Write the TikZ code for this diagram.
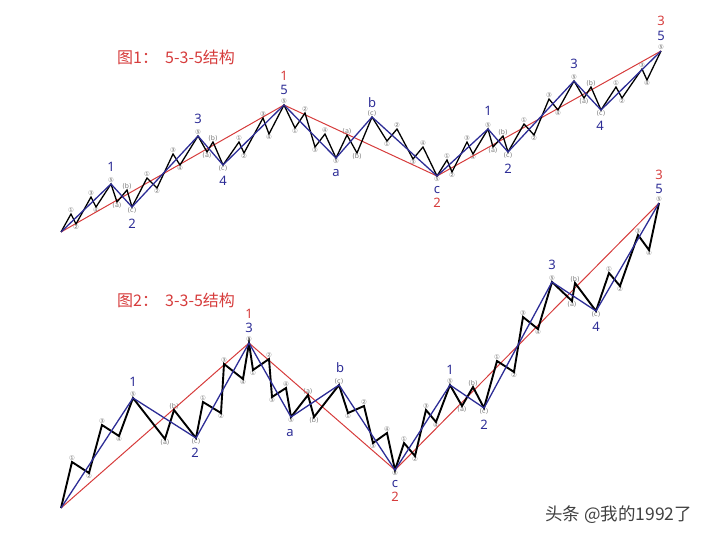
\documentclass[tikz,border=0pt]{standalone}
\usepackage{fontspec}
\setmainfont{Noto Sans}
\newfontfamily\cjk{Noto Sans CJK SC}
\newfontfamily\circfont{DejaVu Sans}
\definecolor{wavered}{RGB}{214,60,60}
\definecolor{waveblue}{RGB}{45,45,150}
\definecolor{subgray}{RGB}{120,120,120}
\tikzset{
  sub/.style={font=\circfont\fontsize{6.5}{7}\selectfont, text=subgray, inner sep=0.8pt},
  hi/.style={label={[sub]above:#1}},
  lo/.style={label={[sub]below:#1}},
  wl/.style={font=\fontsize{13}{15}\selectfont, text=waveblue, inner sep=0pt},
  rl/.style={font=\fontsize{13}{15}\selectfont, text=wavered, inner sep=0pt},
  ttl/.style={font=\cjk\fontsize{16}{18}\selectfont, text=wavered, anchor=west, inner sep=0pt},
  rline/.style={draw=wavered, line width=1pt},
  bline/.style={draw=waveblue, line width=1.3pt, line join=miter},
  kline/.style={draw=black, line width=1.3pt, line join=miter}
}
\begin{document}
\begin{tikzpicture}[x=1pt, y=-1pt]
\useasboundingbox (0,0) rectangle (720,540);
\node[ttl] (title1) at (117,57) {图1：\ \ 5-3-5结构};
\node[ttl] (title2) at (117,300) {图2：\ \ 3-3-5结构};
% top chart
\coordinate (t0) at (61,232);
\coordinate[hi=①] (t1) at (71,214); \coordinate[lo=②] (t2) at (76,224); \coordinate[hi=③] (t3) at (91,197); \coordinate[lo=④] (t4) at (96,207); \coordinate[hi=⑤] (t5) at (111,184);
\coordinate[lo=(a)] (t6) at (117,202); \coordinate[hi=(b)] (t7) at (127,190); \coordinate[lo=(c)] (t8) at (132,207);
\coordinate[hi=①] (t9) at (147,178); \coordinate[lo=②] (t10) at (157,188); \coordinate[hi=③] (t11) at (173,154); \coordinate[lo=④] (t12) at (180,165); \coordinate[hi=⑤] (t13) at (198,136);
\coordinate[lo=(a)] (t14) at (207,152); \coordinate[hi=(b)] (t15) at (213,142); \coordinate[lo=(c)] (t16) at (223,165);
\coordinate[hi=①] (t17) at (239,142); \coordinate[lo=②] (t18) at (244,153); \coordinate[hi=③] (t19) at (263,118); \coordinate[lo=④] (t20) at (269,134); \coordinate[hi=⑤] (t21) at (284,105);
\coordinate[lo=①] (t22) at (295,128); \coordinate[hi=②] (t23) at (305,113); \coordinate[lo=③] (t24) at (315,147); \coordinate[hi=④] (t25) at (325,134); \coordinate[lo=⑤] (t26) at (336,158);
\coordinate[hi=(a)] (t27) at (347,135); \coordinate[lo=(b)] (t28) at (357,153); \coordinate[hi=(c)] (t29) at (372,117);
\coordinate[lo=①] (t30) at (387,141); \coordinate[hi=②] (t31) at (397,129); \coordinate[lo=③] (t32) at (413,159); \coordinate[hi=④] (t33) at (423,147); \coordinate[lo=⑤] (t34) at (437,176);
\coordinate[hi=①] (t35) at (447,160); \coordinate[lo=②] (t36) at (452,172); \coordinate[hi=③] (t37) at (467,142); \coordinate[lo=④] (t38) at (473,154); \coordinate[hi=⑤] (t39) at (488,129);
\coordinate[lo=(a)] (t40) at (493,147); \coordinate[hi=(b)] (t41) at (503,136); \coordinate[lo=(c)] (t42) at (508,152);
\coordinate[hi=①] (t43) at (524,124); \coordinate[lo=②] (t44) at (534,135); \coordinate[hi=③] (t45) at (549,99); \coordinate[lo=④] (t46) at (558,110); \coordinate[hi=⑤] (t47) at (574,81);
\coordinate[lo=(a)] (t48) at (584,98); \coordinate[hi=(b)] (t49) at (591,87); \coordinate[lo=(c)] (t50) at (601,110);
\coordinate[hi=①] (t51) at (616,87); \coordinate[lo=②] (t52) at (622,98); \coordinate[hi=③] (t53) at (642,69); \coordinate[lo=④] (t54) at (647,80); \coordinate[hi=⑤] (t55) at (661,51);
\draw[rline] (t0) -- (t21) -- (t34) -- (t55);
\draw[kline] (t0) -- (t1) -- (t2) -- (t3) -- (t4) -- (t5) -- (t6) -- (t7) -- (t8) -- (t9) -- (t10) -- (t11) -- (t12) -- (t13) -- (t14) -- (t15) -- (t16) -- (t17) -- (t18) -- (t19) -- (t20) -- (t21) -- (t22) -- (t23) -- (t24) -- (t25) -- (t26) -- (t27) -- (t28) -- (t29) -- (t30) -- (t31) -- (t32) -- (t33) -- (t34) -- (t35) -- (t36) -- (t37) -- (t38) -- (t39) -- (t40) -- (t41) -- (t42) -- (t43) -- (t44) -- (t45) -- (t46) -- (t47) -- (t48) -- (t49) -- (t50) -- (t51) -- (t52) -- (t53) -- (t54) -- (t55);
\draw[bline] (t0) -- (t5) -- (t8) -- (t13) -- (t16) -- (t21) -- (t26) -- (t29) -- (t34) -- (t39) -- (t42) -- (t47) -- (t50) -- (t55);
\node[wl] (tw1) at (111,167) {1};
\node[wl] (tw2) at (132,224) {2};
\node[wl] (tw3) at (198,119) {3};
\node[wl] (tw4) at (223,181) {4};
\node[wl] (tw5) at (284,90) {5};
\node[wl] (twa) at (336,173) {a};
\node[wl] (twb) at (372,103) {b};
\node[wl] (twc) at (437,190) {c};
\node[wl] (tv1) at (488,111) {1};
\node[wl] (tv2) at (508,169) {2};
\node[wl] (tv3) at (574,64) {3};
\node[wl] (tv4) at (600,126) {4};
\node[wl] (tv5) at (661,36) {5};
\node[rl] (tr1) at (284,76) {1};
\node[rl] (tr2) at (437,203) {2};
\node[rl] (tr3) at (661,21) {3};
% bottom chart
\coordinate (b0) at (61,508);
\coordinate[hi=①] (b1) at (72,462); \coordinate[lo=②] (b2) at (89,473); \coordinate[hi=③] (b3) at (102,425); \coordinate[lo=④] (b4) at (119,436); \coordinate[hi=⑤] (b5) at (133,398);
\coordinate[lo=(a)] (b6) at (165,439); \coordinate[hi=(b)] (b7) at (174,410); \coordinate[lo=(c)] (b8) at (196,438);
\coordinate[hi=①] (b9) at (203,402); \coordinate[lo=②] (b10) at (221,413); \coordinate[hi=③] (b11) at (224,364); \coordinate[lo=④] (b12) at (243,379); \coordinate[hi=⑤] (b13) at (249,343);
\coordinate[lo=①] (b14) at (253,370); \coordinate[hi=②] (b15) at (269,359); \coordinate[lo=③] (b16) at (272,397); \coordinate[hi=④] (b17) at (286,388); \coordinate[lo=⑤] (b18) at (291,417);
\coordinate[hi=(a)] (b19) at (308,395); \coordinate[lo=(b)] (b20) at (314,417); \coordinate[hi=(c)] (b21) at (339,385);
\coordinate[lo=①] (b22) at (348,413); \coordinate[hi=②] (b23) at (364,406); \coordinate[lo=③] (b24) at (373,443); \coordinate[hi=④] (b25) at (387,433); \coordinate[lo=⑤] (b26) at (395,470);
\coordinate[hi=①] (b27) at (404,443); \coordinate[lo=②] (b28) at (415,456); \coordinate[hi=③] (b29) at (426,410); \coordinate[lo=④] (b30) at (436,422); \coordinate[hi=⑤] (b31) at (450,385);
\coordinate[lo=(a)] (b32) at (462,406); \coordinate[hi=(b)] (b33) at (473,387); \coordinate[lo=(c)] (b34) at (484,408);
\coordinate[hi=①] (b35) at (497,361); \coordinate[lo=②] (b36) at (514,372); \coordinate[hi=③] (b37) at (523,317); \coordinate[lo=④] (b38) at (538,329); \coordinate[hi=⑤] (b39) at (552,282);
\coordinate[lo=(a)] (b40) at (572,301); \coordinate[hi=(b)] (b41) at (575,283); \coordinate[lo=(c)] (b42) at (596,311);
\coordinate[hi=①] (b43) at (609,273); \coordinate[lo=②] (b44) at (620,286); \coordinate[hi=③] (b45) at (638,235); \coordinate[lo=④] (b46) at (649,250); \coordinate[hi=⑤] (b47) at (659,203);
\draw[rline] (b0) -- (b13) -- (b26) -- (b47);
\draw[kline, line width=1.9pt] (b0) -- (b1) -- (b2) -- (b3) -- (b4) -- (b5) -- (b6) -- (b7) -- (b8) -- (b9) -- (b10) -- (b11) -- (b12) -- (b13) -- (b14) -- (b15) -- (b16) -- (b17) -- (b18) -- (b19) -- (b20) -- (b21) -- (b22) -- (b23) -- (b24) -- (b25) -- (b26) -- (b27) -- (b28) -- (b29) -- (b30) -- (b31) -- (b32) -- (b33) -- (b34) -- (b35) -- (b36) -- (b37) -- (b38) -- (b39) -- (b40) -- (b41) -- (b42) -- (b43) -- (b44) -- (b45) -- (b46) -- (b47);
\draw[bline] (b0) -- (b5) -- (b8) -- (b13) -- (b18) -- (b21) -- (b26) -- (b31) -- (b34) -- (b39) -- (b42) -- (b47);
\node[wl] (bw1) at (133,382) {1};
\node[wl] (bw2) at (195,453) {2};
\node[wl] (bw3) at (249,328) {3};
\node[wl] (bwa) at (290,433) {a};
\node[wl] (bwb) at (340,368) {b};
\node[wl] (bwc) at (395,484) {c};
\node[wl] (bv1) at (450,370) {1};
\node[wl] (bv2) at (484,425) {2};
\node[wl] (bv3) at (552,265) {3};
\node[wl] (bv4) at (596,327) {4};
\node[wl] (bv5) at (659,189) {5};
\node[rl] (br1) at (249,314) {1};
\node[rl] (br2) at (395,497) {2};
\node[rl] (br3) at (659,175) {3};
\node[font=\cjk\fontsize{17.5}{20}\selectfont, text=black!75, anchor=west, inner sep=0pt] (mark) at (545,515) {头条 @我的1992了};
\end{tikzpicture}
\end{document}
